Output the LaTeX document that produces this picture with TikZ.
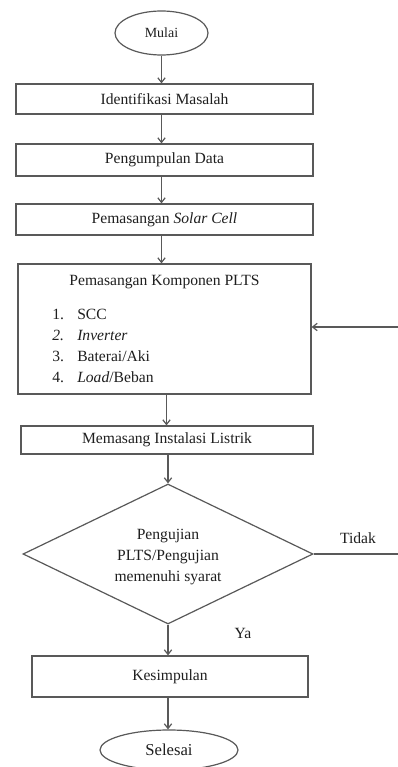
\documentclass[tikz,border=0pt]{standalone}
\usepackage{fontspec}
\setmainfont{Liberation Serif}
\usetikzlibrary{shapes.geometric,arrows.meta}
\definecolor{linec}{gray}{0.35}
\definecolor{txtc}{gray}{0.12}
\newcommand{\txtfont}{\fontsize{11.7}{16}\selectfont}
\begin{document}
\begin{tikzpicture}[x=0.75pt,y=-0.75pt,
  every node/.style={text=txtc,font=\txtfont,inner sep=0pt},
  box/.style={draw=linec,line width=0.9pt,rectangle,inner sep=0pt},
  term/.style={draw=linec,line width=0.9pt,ellipse,inner sep=0pt},
  dec/.style={draw=linec,line width=0.9pt,diamond,inner sep=0pt},
  arr/.style={draw=linec,line width=0.9pt,-{Straight Barb[length=3.5pt,width=5.5pt]}},
  ln/.style={draw=linec,line width=0.9pt}]
\useasboundingbox[fill=white] (0,0) rectangle (398,767);

\node[term,minimum width=69.75pt,minimum height=33pt,font=\fontsize{10.5}{12}\selectfont] (mulai) at (161.5,33) {Mulai};
\node[box,minimum width=222.75pt,minimum height=22.5pt] (iden) at (164.5,99) {Identifikasi Masalah};
\node[box,minimum width=222.75pt,minimum height=24pt] (peng) at (164.5,160) {Pengumpulan Data};
\node[box,minimum width=222.75pt,minimum height=23.25pt] (solar) at (164.5,219.5) {Pemasangan \textit{Solar Cell}};
\node[box,minimum width=219.75pt,minimum height=97.5pt] (plts) at (164.5,329) {};
\node[anchor=base] (pltstitle) at (164.5,285) {Pemasangan Komponen PLTS};
\node[anchor=base west] (n1) at (52,319) {1.};
\node[anchor=base west] (t1) at (77,319) {SCC};
\node[anchor=base west] (n2) at (52,340) {\textit{2.}};
\node[anchor=base west] (t2) at (77,340) {\textit{Inverter}};
\node[anchor=base west] (n3) at (52,361) {3.};
\node[anchor=base west] (t3) at (77,361) {Baterai/Aki};
\node[anchor=base west] (n4) at (52,382) {4.};
\node[anchor=base west] (t4) at (77,382) {\textit{Load}/Beban};
\node[box,minimum width=219pt,minimum height=21pt] (inst) at (167,440) {Memasang Instalasi Listrik};
\node[dec,minimum width=217.5pt,minimum height=105pt] (uji) at (168,554) {};
\node[align=center] (ujitext) at (168,557) {Pengujian\\PLTS/Pengujian\\memenuhi syarat};
\node[box,minimum width=207pt,minimum height=30.75pt] (kes) at (170,676.5) {Kesimpulan};
\node[term,minimum width=103.5pt,minimum height=30pt,font=\fontsize{12.5}{14}\selectfont] (sel) at (169,750) {Selesai};

\coordinate (fbA) at (400,554);
\coordinate (fbB) at (400,327);

\draw[arr] (mulai.south) -- (mulai.south |- iden.north);
\draw[arr] (iden.south -| mulai.south) -- (mulai.south |- peng.north);
\draw[arr] (peng.south -| mulai.south) -- (mulai.south |- solar.north);
\draw[arr] (solar.south -| mulai.south) -- (mulai.south |- plts.north);
\draw[arr] ([xshift=1.5pt]plts.south) -- ([xshift=1.5pt]plts.south |- inst.north);
\draw[arr] (uji.north |- inst.south) -- (uji.north);
\draw[arr] (uji.south) -- (uji.south |- kes.north);
\draw[arr] (uji.south |- kes.south) -- (uji.south |- sel.north);
\draw[ln] (uji.east) -- (fbA) -- (fbB);
\draw[arr] (fbB) -- (plts.east |- fbB);

\node (tidak) at (358,538) {Tidak};
\node (ya) at (243,633) {Ya};
\end{tikzpicture}
\end{document}
